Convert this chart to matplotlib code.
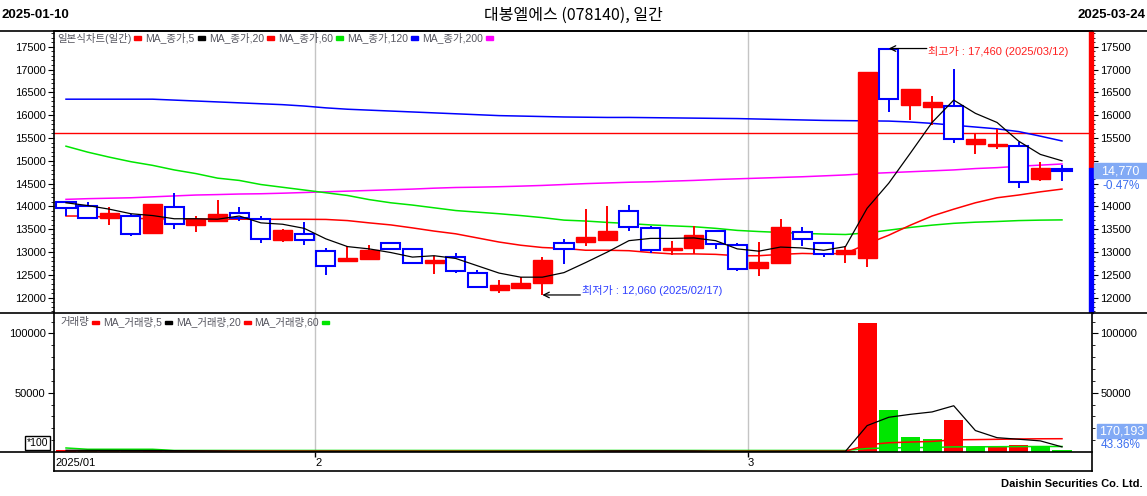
import numpy as np
import matplotlib
matplotlib.use('Agg')
import matplotlib.pyplot as plt
from matplotlib.patches import Rectangle
from matplotlib.lines import Line2D
from matplotlib.ticker import MultipleLocator, FixedLocator
import matplotlib.transforms as mtransforms

plt.rcParams['font.family'] = ['Liberation Sans', 'Noto Sans CJK KR', 'DejaVu Sans']

# ---- data ----
dates = ['2025/01/10', '2025/01/13', '2025/01/14', '2025/01/15', '2025/01/16', '2025/01/17',
         '2025/01/20', '2025/01/21', '2025/01/22', '2025/01/23', '2025/01/24', '2025/01/31',
         '2025/02/03', '2025/02/04', '2025/02/05', '2025/02/06', '2025/02/07', '2025/02/10',
         '2025/02/11', '2025/02/12', '2025/02/13', '2025/02/14', '2025/02/17', '2025/02/18',
         '2025/02/19', '2025/02/20', '2025/02/21', '2025/02/24', '2025/02/25', '2025/02/26',
         '2025/02/27', '2025/02/28', '2025/03/04', '2025/03/05', '2025/03/06', '2025/03/07',
         '2025/03/10', '2025/03/11', '2025/03/12', '2025/03/13', '2025/03/14', '2025/03/17',
         '2025/03/18', '2025/03/19', '2025/03/20', '2025/03/21', '2025/03/24']

opens = [14090, 14000, 13750, 13780, 13420, 13980, 13600, 13690, 13850, 13720, 13270, 13390,
         13020, 12810, 12850, 13190, 13060, 12770, 12890, 12550, 12160, 12220, 12330, 13190,
         13230, 13270, 13890, 13520, 13040, 13090, 13460, 13150, 12660, 12770, 13430, 13190,
         12950, 12880, 17460, 16230, 16170, 16190, 15370, 15320, 15320, 14610, 14820]
highs = [14090, 14100, 13990, 13830, 14060, 14300, 13790, 14140, 13980, 13790, 13500, 13660,
         13090, 13130, 13150, 13230, 13090, 12910, 12980, 12600, 12390, 12450, 12890, 13280,
         13940, 14010, 14030, 13570, 13240, 13580, 13460, 13200, 13220, 13720, 13550, 13190,
         13140, 16950, 17460, 16570, 16430, 17010, 15590, 15690, 15420, 14970, 14910]
lows = [13790, 13720, 13600, 13360, 13420, 13510, 13450, 13690, 13690, 13200, 13230, 13160,
        12500, 12780, 12850, 13060, 12770, 12520, 12550, 12230, 12110, 12220, 12060, 12730,
        13130, 13270, 13470, 12980, 12940, 12950, 13070, 12590, 12480, 12770, 13140, 12900,
        12770, 12680, 16070, 15900, 15780, 15400, 15150, 15260, 14410, 14560, 14560]
closes = [13960, 13750, 13860, 13390, 14050, 13610, 13720, 13830, 13740, 13280, 13480, 13260,
          12690, 12870, 13050, 13060, 12770, 12830, 12590, 12230, 12280, 12320, 12820, 13070,
          13330, 13460, 13560, 13050, 13090, 13370, 13180, 12640, 12780, 13550, 13280, 12950,
          13040, 16950, 16350, 16570, 16290, 15480, 15480, 15370, 14530, 14840, 14770]

ma5 = [14080, 14020, 13940, 13840, 13800, 13730, 13730, 13720, 13790, 13640, 13610, 13520,
       13290, 13120, 13070, 12990, 12890, 12920, 12860, 12700, 12540, 12450, 12450, 12550,
       12770, 13000, 13250, 13300, 13300, 13310, 13250, 13070, 13020, 13110, 13090, 13040,
       13120, 13960, 14510, 15170, 15840, 16330, 16040, 15840, 15430, 15140, 15000]
ma20 = [13790, 13790, 13760, 13740, 13730, 13725, 13722, 13720, 13720, 13718, 13718, 13718,
        13715, 13690, 13640, 13595, 13530, 13460, 13400, 13310, 13220, 13150, 13100, 13080,
        13040, 13040, 13030, 12990, 12960, 12960, 12950, 12920, 12920, 12950, 12970, 12960,
        12970, 13180, 13370, 13590, 13790, 13940, 14080, 14190, 14250, 14320, 14380]
ma60 = [15320, 15190, 15080, 14980, 14900, 14800, 14720, 14620, 14570, 14480, 14420, 14360,
        14300, 14240, 14150, 14080, 14030, 13970, 13910, 13875, 13840, 13800, 13755, 13700,
        13680, 13650, 13625, 13595, 13575, 13555, 13520, 13475, 13450, 13430, 13410, 13395,
        13385, 13420, 13480, 13540, 13590, 13630, 13655, 13670, 13690, 13700, 13705]
ma120 = [16350, 16350, 16350, 16350, 16350, 16330, 16310, 16290, 16270, 16250, 16230, 16200,
         16160, 16130, 16110, 16090, 16070, 16050, 16030, 16010, 15990, 15980, 15970, 15960,
         15955, 15950, 15950, 15945, 15940, 15935, 15930, 15925, 15915, 15905, 15895, 15885,
         15880, 15875, 15870, 15850, 15820, 15780, 15740, 15700, 15640, 15540, 15435]
ma200 = [14155, 14170, 14180, 14190, 14210, 14230, 14250, 14260, 14272, 14278, 14290, 14305,
         14320, 14335, 14350, 14365, 14380, 14400, 14415, 14422, 14432, 14445, 14460, 14480,
         14500, 14515, 14530, 14540, 14555, 14570, 14590, 14605, 14620, 14635, 14650, 14670,
         14690, 14720, 14740, 14760, 14780, 14800, 14830, 14850, 14880, 14905, 14930]
ref_price = 15600

# volume in units of 100 shares
volume = [1600, 1400, 1300, 1000, 1200, 700, 600, 600, 500, 500, 600, 500,
          600, 500, 500, 400, 500, 400, 500, 500, 500, 500, 600, 700,
          1200, 1500, 900, 600, 500, 600, 500, 500, 500, 800, 600, 400,
          500, 109000, 35400, 12650, 10960, 26980, 4470, 5310, 6150, 3925, 1702]
vma5 = [1500, 1400, 1350, 1300, 1300, 1140, 1020, 880, 680, 580, 560, 540,
        560, 540, 540, 500, 500, 460, 460, 460, 480, 480, 520, 560,
        700, 900, 980, 980, 940, 860, 620, 540, 540, 580, 580, 560,
        560, 22260, 29290, 31770, 33780, 39000, 18090, 12070, 10770, 9370, 4310]
vma20 = [900, 900, 880, 860, 850, 830, 810, 790, 770, 750, 730, 710,
         700, 690, 680, 670, 660, 650, 640, 630, 620, 610, 610, 610,
         620, 640, 650, 650, 650, 650, 650, 650, 650, 660, 660, 660,
         660, 6050, 7800, 8400, 8930, 10250, 10450, 10700, 10980, 11150, 11200]
vma60 = [3400, 2300, 2300, 2300, 2300, 1300, 1300, 1300, 1300, 1300, 1300, 1300,
         1300, 1300, 1300, 1300, 1300, 1300, 1300, 1300, 1300, 1300, 1300, 1300,
         1300, 1300, 1300, 1300, 1300, 1300, 1300, 1300, 1300, 1300, 1300, 1300,
         1300, 2900, 3480, 3690, 3870, 4320, 4390, 4470, 4570, 4630, 4650]
last_volume = '170,193'
volume_change = '43.36%'

RED, BLUE, GREEN, MAG = '#ff0000', '#0000ff', '#00e600', '#ff00ff'
LABEL_BG, LABEL_FG = '#82aaf5', '#3a6ef0'

W, H = 1147, 496
fig = plt.figure(figsize=(W / 100, H / 100), dpi=100)


def box(l, t, r, b):
    return [l / W, 1 - b / H, (r - l) / W, (b - t) / H]


def fig_rect(x0, y0, x1, y1, color, z=5):
    # rectangle in picture pixels (top-left origin)
    fig.add_artist(Rectangle((x0 / W, 1 - y1 / H), (x1 - x0) / W, (y1 - y0) / H,
                             transform=fig.transFigure, color=color, zorder=z))


ax = fig.add_axes(box(54, 31, 1092, 313))
axv = fig.add_axes(box(54, 313, 1092, 471))

n = len(dates)
x = np.arange(n)
for a in (ax, axv):
    a.set_xlim(-0.554, n - 1 + 1.386)
    a.set_xticks([])
    for s in a.spines.values():
        s.set_linewidth(1.2)

# month boundaries
bounds = [i - 0.5 for i in range(1, n) if dates[i][5:7] != dates[i - 1][5:7]]

# ---- price panel ----
ax.set_ylim(11665, 17844)
for b in bounds:
    ax.axvline(b, color='#c4c4c4', lw=1, zorder=0)

ax.plot(x, ma200, color=MAG, lw=1.1, zorder=2)
ax.plot(x, ma120, color=BLUE, lw=1.1, zorder=2)
ax.plot(x, ma60, color=GREEN, lw=1.1, zorder=2)
ax.plot(x, ma20, color=RED, lw=1.1, zorder=2)
ax.axhline(ref_price, color=RED, lw=1, zorder=1)

bw = 0.88
for i in range(n):
    o, h, l, c = opens[i], highs[i], lows[i], closes[i]
    if c >= o:
        ax.vlines(i, l, h, color=RED, lw=1.4, zorder=3)
        ax.add_patch(Rectangle((i - bw / 2, o), bw, max(c - o, 8), facecolor=RED,
                               edgecolor=RED, lw=1, zorder=4))
    else:
        ax.vlines(i, o, h, color=BLUE, lw=1.4, zorder=3)
        ax.vlines(i, l, c, color=BLUE, lw=1.4, zorder=3)
        ax.add_patch(Rectangle((i - bw / 2, c), bw, o - c, facecolor='white',
                               edgecolor=BLUE, lw=1.5, zorder=4))

ax.plot(x, ma5, color='black', lw=0.9, zorder=5)

ax.yaxis.set_major_locator(MultipleLocator(500))
ax.yaxis.set_minor_locator(MultipleLocator(100))
ax.tick_params(axis='y', which='both', left=True, right=True, labelleft=True,
               labelright=True, direction='out', labelsize=8, pad=2)
ax.tick_params(axis='y', which='major', length=4)
ax.tick_params(axis='y', which='minor', length=2)
ax.spines['bottom'].set_visible(False)

# high / low annotations
hi = int(np.argmax(highs))
lo = int(np.argmin(lows))
ax.annotate('', xy=(hi, highs[hi]), xytext=(38, 0), textcoords='offset pixels',
            arrowprops=dict(arrowstyle='->', color='black', lw=0.9, shrinkA=0, shrinkB=0),
            zorder=6)
ax.annotate('최고가 : {:,} ({})'.format(highs[hi], dates[hi]), xy=(hi, highs[hi]),
            xytext=(39, -3), textcoords='offset pixels', va='center', ha='left',
            fontsize=8, color='#ff2020')
ax.annotate('', xy=(lo, lows[lo]), xytext=(38, 0), textcoords='offset pixels',
            arrowprops=dict(arrowstyle='->', color='black', lw=0.9, shrinkA=0, shrinkB=0),
            zorder=6)
ax.annotate('최저가 : {:,} ({})'.format(lows[lo], dates[lo]), xy=(lo, lows[lo]),
            xytext=(40, 4), textcoords='offset pixels', va='center', ha='left',
            fontsize=8, color='#3040ff')

# right colour bar: above / below previous close
tr = mtransforms.blended_transform_factory(ax.transAxes, ax.transData)
prev = closes[-2]
ax.add_patch(Rectangle((0.997, prev), 0.004, 17844 - prev, transform=tr, color=RED,
                       clip_on=False, zorder=7))
ax.add_patch(Rectangle((0.997, 11665), 0.004, prev - 11665, transform=tr, color=BLUE,
                       clip_on=False, zorder=7))

# last price label box (covers the right tick labels it sits on)
fig.canvas.draw()
yl = H - ax.transData.transform((0, closes[-1]))[1]
for tk in ax.yaxis.get_major_ticks():
    ty = H - ax.transData.transform((0, tk.get_loc()))[1]
    if yl - 12 < ty < yl + 26:
        tk.label2.set_visible(False)
pct = (closes[-1] - prev) / prev * 100
fig_rect(1094, yl - 8, W, yl + 7, LABEL_BG)
fig.text(1120 / W, 1 - yl / H, '{:,}'.format(closes[-1]), fontsize=9, color='white',
         va='center', ha='center', zorder=6)
fig.text(1121 / W, 1 - (yl + 15) / H, '{:.2f}%'.format(pct), fontsize=8.5,
         color=LABEL_FG, va='center', ha='center', zorder=6)

# ---- volume panel ----
axv.set_ylim(-16020, 117200)
vcol = [RED] + [RED if volume[i] > volume[i - 1] else GREEN for i in range(1, n)]
for b in bounds:
    axv.vlines(b, 0, 117200, color='#c4c4c4', lw=1, zorder=0)
    axv.vlines(b, -4500, 0, color='black', lw=1, zorder=1)
axv.bar(x, volume, width=0.88, color=vcol, zorder=2)
axv.plot(x, vma60, color=GREEN, lw=1.1, zorder=3)
axv.plot(x, vma20, color=RED, lw=1.1, zorder=3)
axv.plot(x, vma5, color='black', lw=0.9, zorder=4)

axv.yaxis.set_major_locator(FixedLocator([50000, 100000]))
axv.yaxis.set_minor_locator(FixedLocator(list(range(10000, 120000, 10000))))
axv.tick_params(axis='y', which='both', left=True, right=True, labelleft=True,
                labelright=True, direction='out', labelsize=8, pad=2)
axv.tick_params(axis='y', which='major', length=4)
axv.tick_params(axis='y', which='minor', length=2)
axv.spines['top'].set_visible(False)

axv.text(0, -5000, dates[0][:7], fontsize=8, va='top', ha='left',
         transform=mtransforms.offset_copy(axv.transData, fig, x=-11, y=0, units='dots'))
for b in bounds:
    axv.text(b, -5000, str(int(dates[int(b + 0.5)][5:7])), fontsize=8, va='top', ha='left')

fig_rect(1097, 424, W, 438, LABEL_BG)
fig.text(1122 / W, 1 - 431 / H, last_volume, fontsize=9, color='white',
         va='center', ha='center', zorder=6)
fig.text(1121 / W, 1 - 445 / H, volume_change, fontsize=8.5, color=LABEL_FG,
         va='center', ha='center', zorder=6)
fig.text(27 / W, 1 - 443 / H, '*100', fontsize=7.5, va='center', ha='left',
         bbox=dict(boxstyle='square,pad=0.15', fc='white', ec='black', lw=1))

# ---- frame lines ----
for yy in (31, 313):
    fig.add_artist(Line2D([0, 1], [1 - yy / H] * 2, color='black', lw=1.2))
fig.add_artist(Line2D([0, 1092 / W], [1 - 452 / H] * 2, color='black', lw=1.2))


# ---- legends ----
def legend_row(x0, y0, items):
    renderer = fig.canvas.get_renderer()
    xp = x0
    for label, color in items:
        t = fig.text(xp / W, 1 - y0 / H, label, fontsize=7.5, color='#55555f',
                     va='center', ha='left')
        bb = t.get_window_extent(renderer)
        xp = bb.x1 + 3
        fig.add_artist(Rectangle((xp / W, 1 - (y0 + 1.5) / H), 7 / W, 3 / H,
                                 transform=fig.transFigure, color=color))
        xp += 11


legend_row(57, 38, [('일본식차트(일간)', RED), ('MA_종가,5', 'black'), ('MA_종가,20', RED),
                    ('MA_종가,60', GREEN), ('MA_종가,120', BLUE), ('MA_종가,200', MAG)])
legend_row(60, 322, [('거래량', RED), ('MA_거래량,5', 'black'), ('MA_거래량,20', RED),
                     ('MA_거래량,60', GREEN)])

# ---- header / footer ----
hfont = ['Liberation Sans Narrow', 'Liberation Sans', 'Noto Sans CJK KR']
fig.text(1 / W, 1 - 15 / H, dates[0].replace('/', '-'), fontsize=9.5, weight='bold',
         family=hfont, va='center', ha='left')
fig.text(1 - 1 / W, 1 - 15 / H, dates[-1].replace('/', '-'), fontsize=9.5, weight='bold',
         family=hfont, va='center', ha='right')
fig.text(573 / W, 1 - 15 / H, '대봉엘에스 (078140), 일간', fontsize=11.5,
         family=['Noto Sans CJK KR'], va='center', ha='center')
fig.text(1 - 4 / W, 1 - 484 / H, 'Daishin Securities Co. Ltd.', fontsize=8, weight='bold',
         va='center', ha='right')

fig.savefig('out.png', dpi=100)
